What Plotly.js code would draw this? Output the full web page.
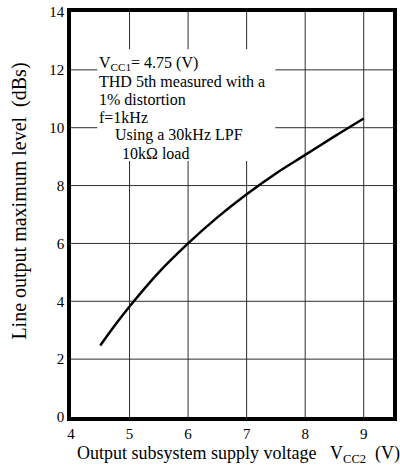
<!DOCTYPE html>
<html>
<head>
<meta charset="utf-8">
<script src="https://cdn.plot.ly/plotly-3.0.1.min.js"></script>
</head>
<body style="margin:0">
<div id="chart"></div>
<script>
const vcc2 = [4.5, 4.75, 5, 5.5, 6, 6.5, 7, 7.5, 8, 8.5, 9];
const levelDb = [2.47, 3.17, 3.82, 5.0, 6.0, 6.9, 7.7, 8.42, 9.06, 9.7, 10.32];
const xTicks = [4, 5, 6, 7, 8, 9];
const yTicks = [0, 2, 4, 6, 8, 10, 12, 14];
const noteLines = [
  "V<sub>CC1</sub>= 4.75 (V)",
  "THD 5th measured with a",
  "1% distortion",
  "f=1kHz",
  "Using a 30kHz LPF",
  "10kΩ load"
];
const noteIndent = [0, 0, 0, 0, 0.27, 0.39];
const NB = "\u00A0";
const xTitle = "Output subsystem supply voltage" + NB + NB + NB + "V<sub>CC2</sub>" + NB + NB + "(V)";
const yTitle = "Line output maximum level" + NB + NB + "(dBs)";

const serif = "Liberation Serif";
const xRange = [4, 9.5];
const yRange = [0, 14];
const noteBox = {x0: 4.45, x1: 7.49, y0: 8.85, y1: 12.71};

// grid lines built from the tick arrays
const gx = [], gy = [];
xTicks.filter(v => v > xRange[0] && v < xRange[1]).forEach(v => { gx.push(v, v, null); gy.push(yRange[0], yRange[1], null); });
yTicks.filter(v => v > yRange[0] && v < yRange[1]).forEach(v => { gx.push(xRange[0], xRange[1], null); gy.push(v, v, null); });

const gridTrace = {
  x: gx, y: gy, type: "scatter", mode: "lines", connectgaps: false,
  line: {color: "#2e2e2e", width: 1}, hoverinfo: "skip"
};
const boxTrace = {
  x: [noteBox.x0, noteBox.x1, noteBox.x1, noteBox.x0, noteBox.x0],
  y: [noteBox.y0, noteBox.y0, noteBox.y1, noteBox.y1, noteBox.y0],
  type: "scatter", mode: "lines", fill: "toself", fillcolor: "#ffffff",
  line: {color: "rgba(255,255,255,0)", width: 0}, hoverinfo: "skip"
};
const curveTrace = {
  x: vcc2, y: levelDb, type: "scatter", mode: "lines",
  line: {color: "#000000", width: 2.5, shape: "spline"},
  hoverinfo: "skip"
};

const annotations = noteLines.map((t, i) => ({
  xref: "x", yref: "y", x: 4.44 + noteIndent[i], y: 12.22 - i * 0.62,
  text: t, showarrow: false, xanchor: "left", yanchor: "middle",
  font: {size: 16, color: "#000000"}
}));
annotations.push({
  xref: "paper", yref: "paper", x: 0.519, y: -0.092, xanchor: "center", yanchor: "middle",
  text: xTitle, showarrow: false, font: {size: 18, color: "#000000"}
});
annotations.push({
  xref: "paper", yref: "paper", x: -0.16, y: 0.533, xanchor: "center", yanchor: "middle",
  text: yTitle, textangle: -90, showarrow: false, font: {size: 20, color: "#000000"}
});

const layout = {
  width: 400, height: 470,
  margin: {l: 71, r: 7, t: 12, b: 53},
  font: {family: serif, size: 15, color: "#000000"},
  showlegend: false,
  xaxis: {
    range: xRange, tickvals: xTicks, showgrid: false,
    showline: true, linecolor: "#000000", linewidth: 3.5, mirror: true, zeroline: false
  },
  yaxis: {
    range: yRange, tickvals: yTicks, showgrid: false,
    showline: true, linecolor: "#000000", linewidth: 3.5, mirror: true, zeroline: false
  },
  annotations: annotations
};
Plotly.newPlot("chart", [gridTrace, boxTrace, curveTrace], layout, {displayModeBar: false});
</script>
</body>
</html>
